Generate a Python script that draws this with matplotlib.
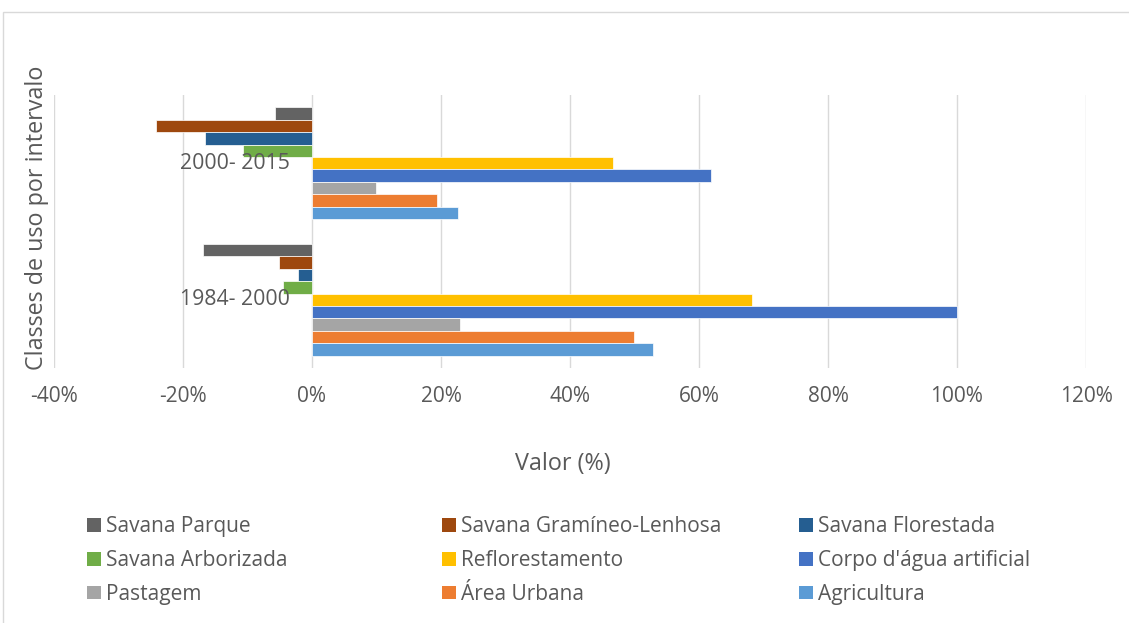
import matplotlib
matplotlib.use("Agg")
import matplotlib.pyplot as plt
from matplotlib.patches import Rectangle, Patch
from matplotlib.ticker import FuncFormatter

plt.rcParams['font.family'] = ['Open Sans', 'DejaVu Sans']

# intervals, bottom to top as drawn
intervalos = ['1984- 2000', '2000- 2015']

# classes in legend order (top bar of each group first)
classes = ['Savana Parque', 'Savana Gramíneo-Lenhosa', 'Savana Florestada',
           'Savana Arborizada', 'Reflorestamento', "Corpo d'água artificial",
           'Pastagem', 'Área Urbana', 'Agricultura']
cores = ['#636363', '#9E480E', '#255E91', '#70AD47', '#FFC000',
         '#4472C4', '#A5A5A5', '#ED7D31', '#5B9BD5']

# values (%) per class: [1984-2000, 2000-2015]
savana_parque = [-16.9, -5.7]
savana_gramineo = [-5.1, -24.2]
savana_florestada = [-2.2, -16.6]
savana_arborizada = [-4.5, -10.7]
reflorestamento = [68.2, 46.7]
corpo_agua = [100.0, 61.9]
pastagem = [22.9, 9.9]
area_urbana = [49.9, 19.4]
agricultura = [52.9, 22.6]

valores = [savana_parque, savana_gramineo, savana_florestada, savana_arborizada,
           reflorestamento, corpo_agua, pastagem, area_urbana, agricultura]

xticks = [-40, -20, 0, 20, 40, 60, 80, 100, 120]

fig = plt.figure(figsize=(11.29, 6.23), dpi=100)
ax = fig.add_axes([54/1129, 1 - 368/623, (1086 - 54)/1129, (368 - 95)/623])

n = len(classes)
group = 0.824
h = group / n
handles = []
for j, (nome, cor, vals) in enumerate(zip(classes, cores, valores)):
    ys = [i - group/2 + (n - 1 - j + 0.5)*h for i in range(len(intervalos))]
    ax.barh(ys, vals, height=h, color=cor, edgecolor='white', linewidth=0.5, zorder=3)
    handles.append(Patch(facecolor=cor, edgecolor='none', label=nome))

ax.set_xlim(-40, 120)
ax.set_ylim(-0.5, len(intervalos) - 0.5)
ax.set_xticks(xticks)
ax.xaxis.set_major_formatter(FuncFormatter(lambda v, p: f'{v:.0f}%'))
ax.tick_params(axis='x', length=0, pad=13, labelsize=15, labelcolor='#595959')
ax.set_yticks([])
ax.grid(axis='x', color='#D9D9D9', linewidth=1, zorder=0)
for s in ax.spines.values():
    s.set_visible(False)

# category labels next to the 0 axis
for i, lab in enumerate(intervalos):
    ax.annotate(lab, xy=(0, i), xytext=(-22, 0), textcoords='offset pixels',
                ha='right', va='center', fontsize=15.3, color='#595959', zorder=4)

fig.text(37/1129, 1 - 218/623, 'Classes de uso por intervalo', rotation=90,
         ha='center', va='center', fontsize=16.8, color='#595959')
fig.text(563/1129, 1 - 464/623, 'Valor (%)', ha='center', va='center',
         fontsize=16.8, color='#595959')

# legend: three columns placed by hand
col_x = [87, 442, 799]
for c in range(3):
    hs = [handles[r*3 + c] for r in range(3)]
    leg = fig.legend(handles=hs, loc='upper left',
                     bbox_to_anchor=(col_x[c]/1129, 1 - 516/623),
                     frameon=False, fontsize=15, handlelength=0.65,
                     handleheight=0.65, handletextpad=0.25, labelspacing=0.62,
                     borderaxespad=0, borderpad=0)
    for t in leg.get_texts():
        t.set_color('#595959')

fig.add_artist(Rectangle((3/1129, -0.01), 1.01, 1 - 12/623 + 0.01,
                         transform=fig.transFigure, fill=False,
                         edgecolor='#D9D9D9', linewidth=1))

fig.savefig('out.png', dpi=100)
